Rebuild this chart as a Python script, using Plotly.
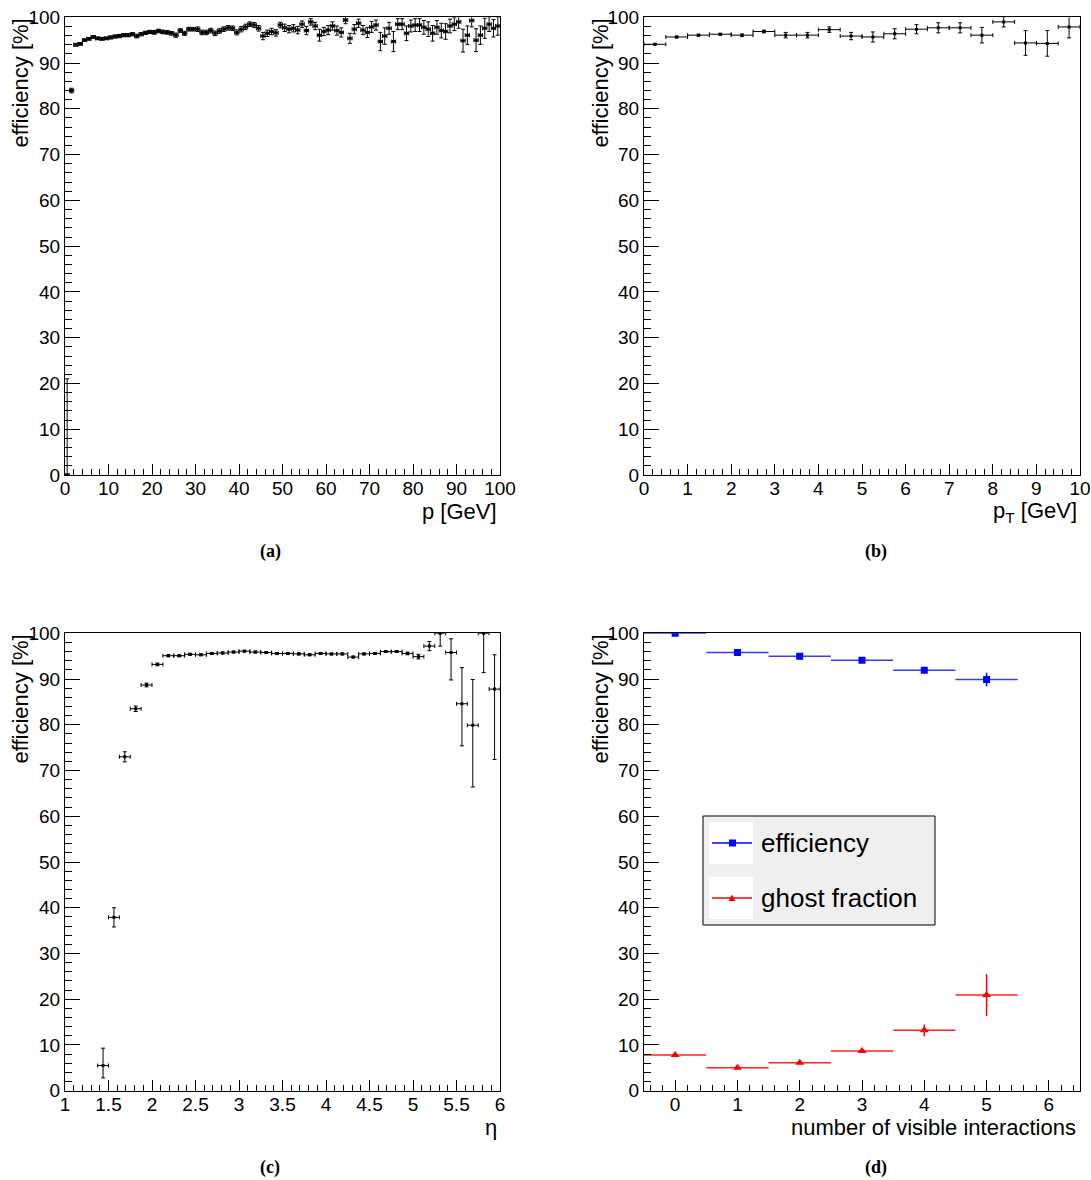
import plotly.graph_objects as go

W, H = 1091, 1180

# ---------------- data ----------------
# (a) efficiency vs p, 1 GeV bins from 0 to 100
p_bin_width = 1.0
p_eff = [0.0, 84.0, 94.0, 94.2, 95.0, 95.3, 95.7, 95.4, 95.3, 95.4,
         95.6, 95.8, 95.9, 96.1, 96.1, 96.3, 95.9, 96.3, 96.6, 96.8,
         96.7, 97.0, 96.8, 96.7, 96.5, 96.1, 97.1, 96.5, 97.4, 97.4,
         97.4, 96.7, 96.7, 97.1, 96.5, 97.0, 97.4, 97.7, 97.6, 96.7,
         97.4, 97.9, 98.5, 98.3, 97.6, 95.9, 96.5, 96.9, 96.6, 98.3,
         97.7, 97.4, 97.6, 97.2, 98.5, 97.1, 99.0, 98.1, 96.1, 96.9,
         97.2, 98.1, 97.1, 96.7, 99.4, 95.4, 97.4, 98.7, 97.2, 96.7,
         97.9, 98.3, 94.7, 95.9, 97.6, 94.7, 98.5, 98.5, 96.5, 98.1,
         98.3, 98.3, 97.8, 97.4, 96.5, 97.8, 97.1, 96.9, 98.1, 98.5,
         99.0, 94.9, 96.1, 99.3, 95.0, 96.1, 97.6, 98.5, 97.6, 98.1]
p_err_hi = [21.0, 0.5, 0.3, 0.3, 0.3, 0.3, 0.3, 0.3, 0.3, 0.3,
            0.35, 0.35, 0.35, 0.35, 0.35, 0.35, 0.4, 0.35, 0.35, 0.35,
            0.4, 0.4, 0.4, 0.4, 0.4, 0.45, 0.4, 0.45, 0.4, 0.4,
            0.5, 0.5, 0.5, 0.5, 0.5, 0.5, 0.5, 0.5, 0.5, 0.55,
            0.6, 0.6, 0.5, 0.55, 0.6, 0.8, 0.7, 0.7, 0.7, 0.6,
            0.8, 0.8, 0.8, 0.8, 0.7, 0.9, 0.7, 0.8, 1.3, 0.9,
            1.0, 0.9, 1.0, 1.0, 0.8, 1.1, 1.0, 0.9, 1.0, 1.1,
            1.2, 1.1, 2.0, 1.8, 1.3, 2.2, 1.2, 1.2, 1.6, 1.3,
            1.4, 1.4, 1.5, 1.6, 1.7, 1.5, 1.6, 1.7, 1.5, 1.4,
            1.4, 2.5, 2.0, 1.4, 2.5, 2.0, 2.2, 1.6, 1.9, 2.0]
p_err_lo = [0.0] + p_err_hi[1:]

# (b) efficiency vs pT, 0.5 GeV bins from 0 to 10
pt_bin_width = 0.5
pt_eff = [94.1, 95.7, 96.1, 96.3, 96.1, 96.9, 96.1, 96.1, 97.3, 95.9,
          95.7, 96.4, 97.4, 97.7, 97.7, 96.1, 99.0, 94.4, 94.3, 97.9]
pt_err = [0.15, 0.2, 0.2, 0.2, 0.25, 0.3, 0.6, 0.6, 0.6, 0.8,
          1.1, 1.1, 1.0, 1.1, 1.1, 1.7, 1.1, 2.7, 2.8, 2.4]

# (c) efficiency vs eta, 0.125 bins from 1.375 to 6
eta_first_edge = 1.375
eta_bin_width = 0.125
eta_eff = [5.5, 37.9, 73.0, 83.5, 88.7, 93.2, 95.1, 95.1, 95.4, 95.3,
           95.6, 95.7, 95.9, 96.1, 95.9, 95.8, 95.6, 95.6, 95.5, 95.3,
           95.6, 95.5, 95.5, 94.8, 95.5, 95.6, 96.0, 96.0, 95.6, 94.9,
           97.2, 100.0, 95.8, 84.6, 79.9, 100.0, 87.8]
eta_err_hi = [3.8, 2.1, 1.1, 0.6, 0.4, 0.3, 0.2, 0.2, 0.2, 0.2,
              0.2, 0.2, 0.2, 0.2, 0.2, 0.2, 0.2, 0.2, 0.2, 0.2,
              0.2, 0.2, 0.2, 0.2, 0.2, 0.2, 0.2, 0.2, 0.3, 0.5,
              1.0, 0.0, 3.0, 7.9, 10.0, 0.0, 7.5]
eta_err_lo = [2.7, 2.1, 1.1, 0.6, 0.4, 0.3, 0.2, 0.2, 0.2, 0.2,
              0.2, 0.2, 0.2, 0.2, 0.2, 0.2, 0.2, 0.2, 0.2, 0.2,
              0.2, 0.2, 0.2, 0.2, 0.2, 0.2, 0.2, 0.2, 0.3, 0.5,
              1.0, 2.8, 6.0, 9.2, 13.5, 8.6, 15.4]

# (d) efficiency and ghost fraction vs number of visible interactions
nvis = [0, 1, 2, 3, 4, 5]
nvis_half_width = 0.5
nvis_eff = [100.0, 95.8, 95.0, 94.1, 91.9, 89.9]
nvis_eff_err = [0.0, 0.2, 0.2, 0.2, 0.3, 1.5]
nvis_ghost = [7.8, 5.0, 6.1, 8.7, 13.2, 20.9]
nvis_ghost_err = [0.3, 0.3, 0.3, 0.4, 1.3, 4.6]

# ---------------- figure ----------------
FONT = "Liberation Sans, Arial, Helvetica, sans-serif"
TICK_FS = 19
TITLE_FS = 22


def fx(px):
    return px / W


def fy(py):
    return 1 - py / H


fig = go.Figure()


def add_hist(x, y, xerr, ehi, elo, xa, ya):
    fig.add_trace(go.Scatter(
        x=x, y=y, mode="markers", xaxis=xa, yaxis=ya, showlegend=False,
        marker=dict(symbol="square", size=3, color="black"),
        error_x=dict(type="data", array=xerr, color="black", thickness=1, width=2),
        error_y=dict(type="data", symmetric=False, array=ehi, arrayminus=elo,
                     color="black", thickness=1, width=2),
        cliponaxis=True,
    ))


p_x = [p_bin_width * (i + 0.5) for i in range(len(p_eff))]
add_hist(p_x, p_eff, [p_bin_width / 2] * len(p_x), p_err_hi, p_err_lo, "x", "y")

pt_x = [pt_bin_width * (i + 0.5) for i in range(len(pt_eff))]
add_hist(pt_x, pt_eff, [pt_bin_width / 2] * len(pt_x), pt_err, pt_err, "x2", "y2")

eta_x = [eta_first_edge + eta_bin_width * (i + 0.5) for i in range(len(eta_eff))]
add_hist(eta_x, eta_eff, [eta_bin_width / 2] * len(eta_x), eta_err_hi, eta_err_lo, "x3", "y3")

fig.add_trace(go.Scatter(
    x=nvis, y=nvis_eff, mode="markers", xaxis="x4", yaxis="y4", showlegend=False,
    marker=dict(symbol="square", size=7, color="#0000ff"),
    error_x=dict(type="data", array=[nvis_half_width] * len(nvis), color="#3b3bff", thickness=1.5, width=0),
    error_y=dict(type="data", array=nvis_eff_err, color="#0000ff", thickness=1.5, width=0),
))
fig.add_trace(go.Scatter(
    x=nvis, y=nvis_ghost, mode="markers", xaxis="x4", yaxis="y4", showlegend=False,
    marker=dict(symbol="triangle-up", size=8, color="#ff0000"),
    error_x=dict(type="data", array=[nvis_half_width] * len(nvis), color="#ff2020", thickness=1.5, width=0),
    error_y=dict(type="data", array=nvis_ghost_err, color="#ff0000", thickness=1.5, width=0),
))


def xaxis(domain, rng, dtick, mdtick, anchor):
    return dict(domain=domain, range=rng, dtick=dtick, tick0=0, automargin=False,
                ticks="inside", ticklen=11, tickwidth=1, tickcolor="black",
                ticklabelstandoff=-4,
                minor=dict(dtick=mdtick, ticks="inside", ticklen=6, tickwidth=1, tickcolor="black"),
                showline=True, linecolor="black", linewidth=1, mirror=True,
                showgrid=False, zeroline=False, anchor=anchor,
                tickfont=dict(family=FONT, size=TICK_FS, color="black"))


def yaxis(domain, anchor):
    return dict(domain=domain, range=[0, 100], dtick=10, tick0=0, automargin=False,
                ticks="inside", ticklen=15, tickwidth=1, tickcolor="black",
                minor=dict(dtick=2, ticks="inside", ticklen=7, tickwidth=1, tickcolor="black"),
                showline=True, linecolor="black", linewidth=1, mirror=True,
                showgrid=False, zeroline=False, anchor=anchor,
                tickfont=dict(family=FONT, size=TICK_FS, color="black"))


top_dom = [fy(475), fy(17.3)]
bot_dom = [fy(1090.7), fy(633.3)]
left_dom = [fx(65), fx(500)]
right_dom = [fx(644), fx(1080)]

fig.update_layout(
    template="none",
    width=W, height=H, margin=dict(l=0, r=0, t=0, b=0, pad=0, autoexpand=False),
    paper_bgcolor="white", plot_bgcolor="white", showlegend=False,
    xaxis=xaxis(left_dom, [0, 100], 10, 2, "y"),
    yaxis=yaxis(top_dom, "x"),
    xaxis2=xaxis(right_dom, [0, 10], 1, 0.2, "y2"),
    yaxis2=yaxis(top_dom, "x2"),
    xaxis3=xaxis(left_dom, [1, 6], 0.5, 0.1, "y3"),
    yaxis3=yaxis(bot_dom, "x3"),
    xaxis4=xaxis(right_dom, [-0.5, 6.5], 1, 0.2, "y4"),
    yaxis4=yaxis(bot_dom, "x4"),
)

ann = []


def ytitle(xc, ytop):
    ann.append(dict(text="efficiency [%]", textangle=-90, x=fx(xc), y=fy(ytop),
                    xref="paper", yref="paper", xanchor="center", yanchor="top",
                    showarrow=False, font=dict(family=FONT, size=TITLE_FS, color="black")))


def xtitle(text, xright, yc):
    ann.append(dict(text=text, x=fx(xright), y=fy(yc), xref="paper", yref="paper",
                    xanchor="right", yanchor="middle", showarrow=False,
                    font=dict(family=FONT, size=TITLE_FS, color="black")))


def caption(text, xc, yc):
    ann.append(dict(text="<b>" + text + "</b>", x=fx(xc), y=fy(yc), xref="paper", yref="paper",
                    xanchor="center", yanchor="middle", showarrow=False,
                    font=dict(family="Liberation Serif, DejaVu Serif, serif", size=18, color="black")))


ytitle(20, 17)
ytitle(600, 17)
ytitle(20, 633)
ytitle(600, 633)
xtitle("p [GeV]", 499, 511)
xtitle("p<sub>T</sub> [GeV]", 1079, 512)
xtitle("η", 499, 1127)
xtitle("number of visible interactions", 1078, 1127)
caption("(a)", 270, 551)
caption("(b)", 876, 551)
caption("(c)", 270, 1167)
caption("(d)", 876, 1167)

# legend (manual box)
LEG_FS = 26
ann.append(dict(text="efficiency", x=fx(759), y=fy(843), xref="paper", yref="paper",
                xanchor="left", yanchor="middle", showarrow=False,
                font=dict(family=FONT, size=LEG_FS, color="black")))
ann.append(dict(text="ghost fraction", x=fx(759), y=fy(898), xref="paper", yref="paper",
                xanchor="left", yanchor="middle", showarrow=False,
                font=dict(family=FONT, size=LEG_FS, color="black")))

shapes = [
    dict(type="rect", xref="paper", yref="paper", x0=fx(703), x1=fx(935), y0=fy(925), y1=fy(816),
         fillcolor="#efefef", line=dict(color="black", width=1), layer="above"),
    dict(type="rect", xref="paper", yref="paper", x0=fx(709), x1=fx(753), y0=fy(864), y1=fy(822),
         fillcolor="white", line=dict(width=0), layer="above"),
    dict(type="rect", xref="paper", yref="paper", x0=fx(709), x1=fx(753), y0=fy(919), y1=fy(877),
         fillcolor="white", line=dict(width=0), layer="above"),
    dict(type="line", xref="paper", yref="paper", x0=fx(712), x1=fx(752), y0=fy(843), y1=fy(843),
         line=dict(color="#0000ff", width=1.5), layer="above"),
    dict(type="line", xref="paper", yref="paper", x0=fx(712), x1=fx(752), y0=fy(898), y1=fy(898),
         line=dict(color="#ff0000", width=1.5), layer="above"),
    dict(type="rect", xref="paper", yref="paper", x0=fx(729), x1=fx(736), y0=fy(846.5), y1=fy(839.5),
         fillcolor="#0000ff", line=dict(width=0), layer="above"),
    dict(type="path", xref="paper", yref="paper",
         path="M {} {} L {} {} L {} {} Z".format(fx(728.5), fy(901), fx(735.5), fy(901), fx(732), fy(894.5)),
         fillcolor="#ff0000", line=dict(width=0), layer="above"),
]

fig.update_layout(annotations=ann, shapes=shapes)
fig.write_html("out.html",
               config={"displayModeBar": False},
               post_script="document.body.style.margin='0px';document.body.style.padding='0px';"
                           "document.body.style.overflow='hidden';")
